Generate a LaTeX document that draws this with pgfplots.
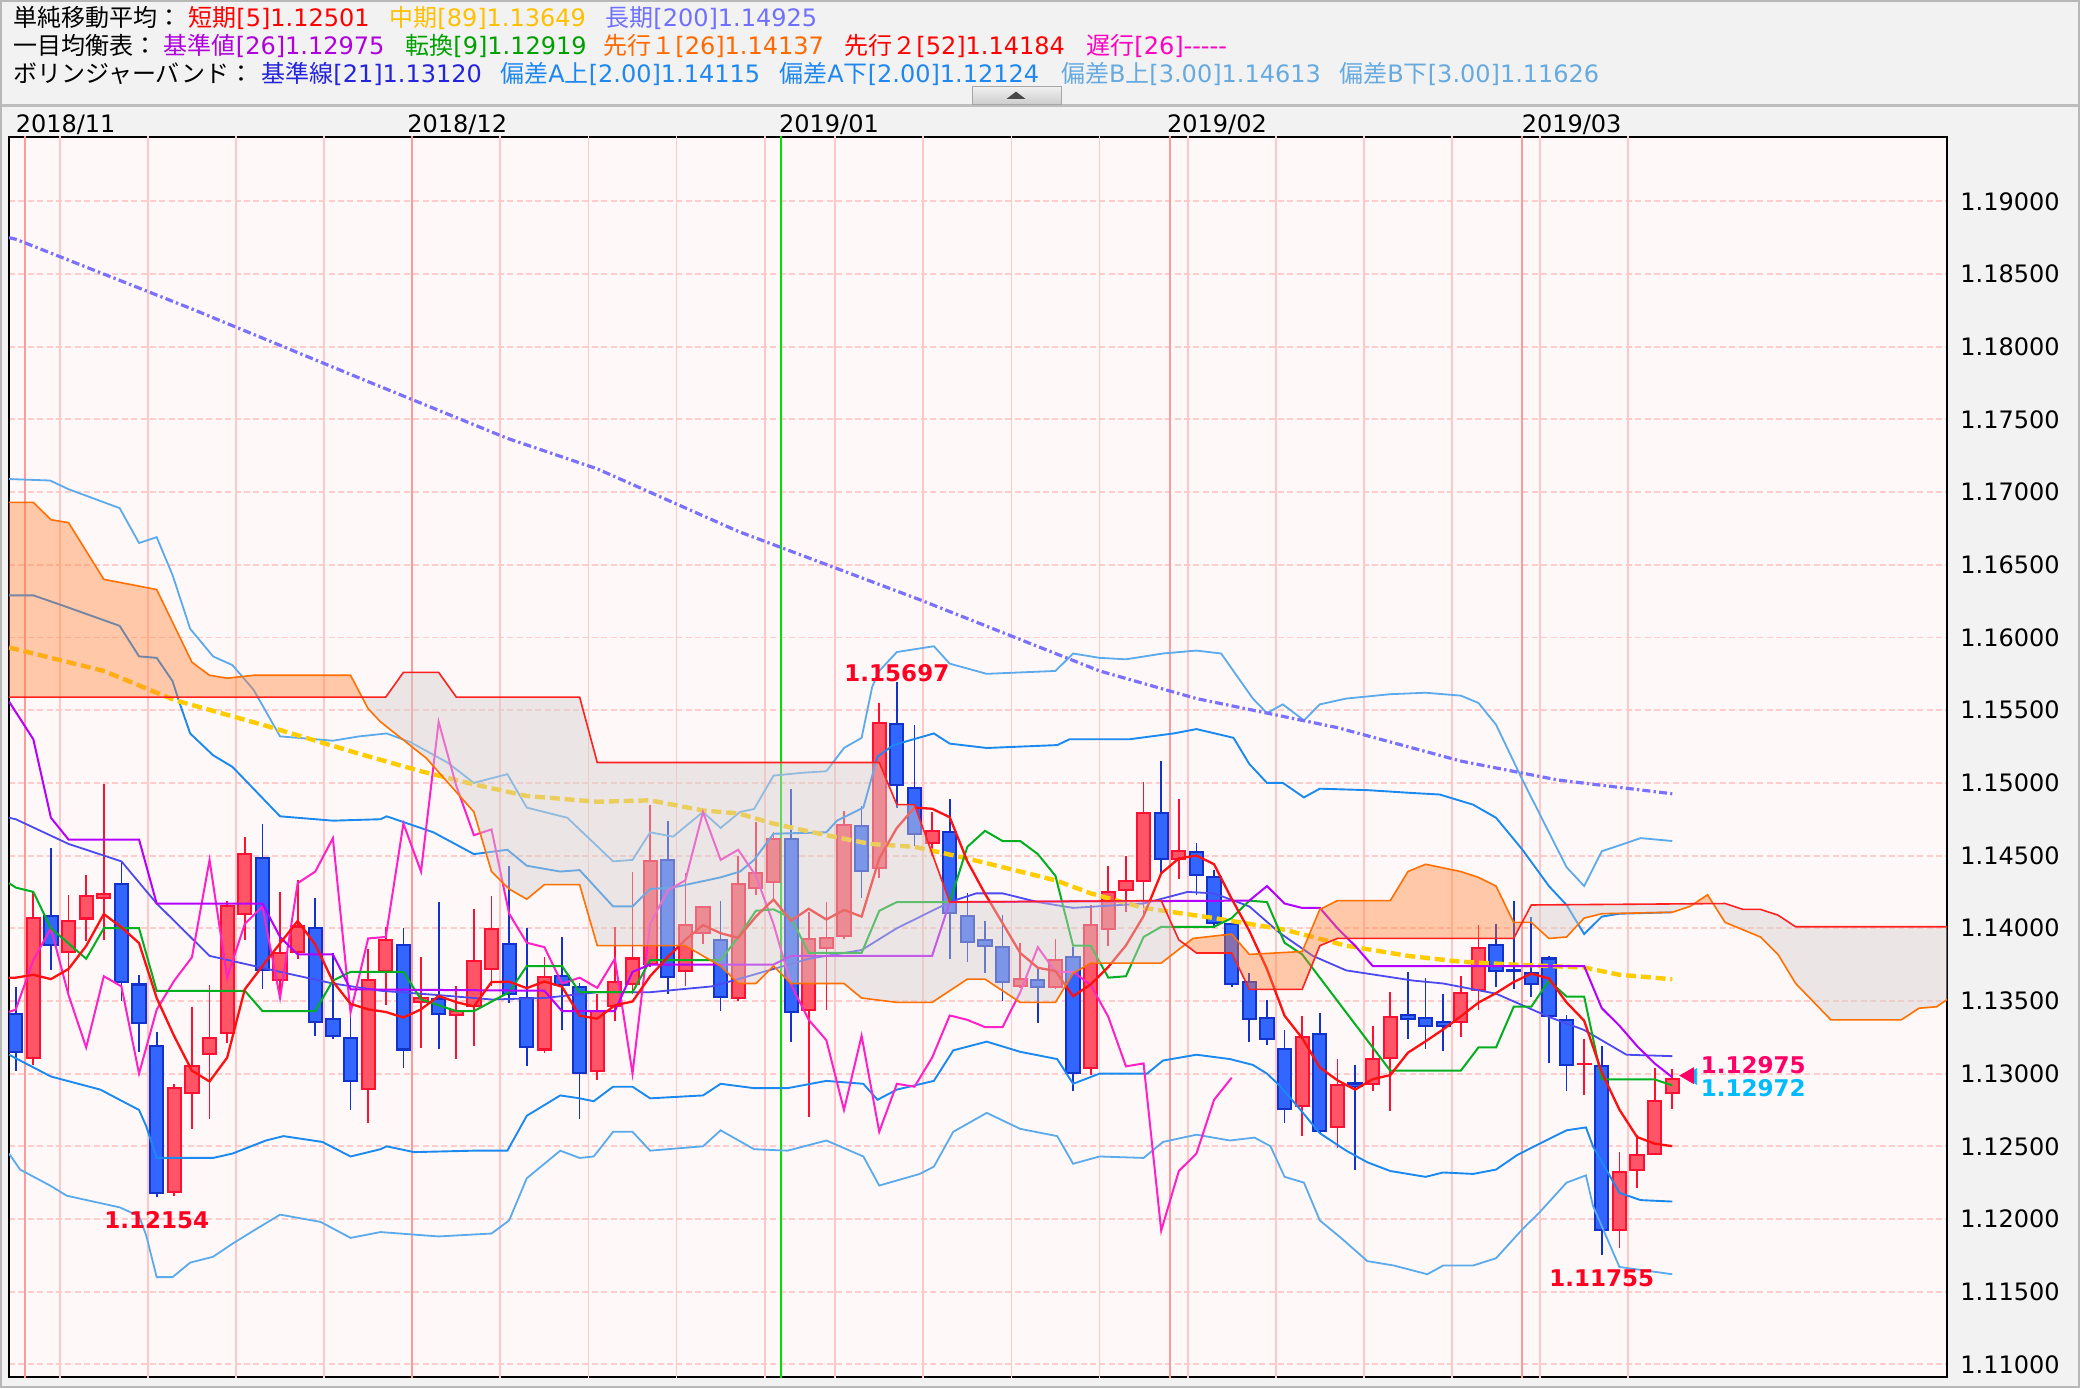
\documentclass[border=0pt]{standalone}
\usepackage{fontspec}
\setmainfont{DejaVu Sans}
\newfontfamily\jp{Noto Sans CJK JP}
\newfontfamily\dv{DejaVu Sans}
\usepackage{pgfplots}
\pgfplotsset{compat=1.18}
\usepackage{pgfplotstable}

\definecolor{panel}{HTML}{F2F2F2}
\definecolor{edge}{HTML}{B8B8B8}
\definecolor{hdrline}{HTML}{BDBDBD}
\definecolor{bgpink}{HTML}{FFF8F8}
\definecolor{gridpink}{HTML}{FFCCCC}
\definecolor{weekline}{HTML}{FFC8C8}
\definecolor{monthline}{HTML}{FF9A9A}
\definecolor{yearline}{HTML}{00E000}
\definecolor{upfill}{HTML}{FF5566}
\definecolor{upedge}{HTML}{FF1033}
\definecolor{dnfill}{HTML}{3366FF}
\definecolor{dnedge}{HTML}{1133CC}
\definecolor{smafive}{HTML}{FF1010}
\definecolor{smaeightynine}{HTML}{FFCC00}
\definecolor{smatwohundred}{HTML}{7A72FF}
\definecolor{bbmid}{HTML}{4A4AF0}
\definecolor{bbtwo}{HTML}{1A8AF0}
\definecolor{bbthree}{HTML}{5AAAEC}
\definecolor{kijun}{HTML}{B400FF}
\definecolor{tenkan}{HTML}{00B020}
\definecolor{chikou}{HTML}{FF20C8}
\definecolor{spanA}{HTML}{FF7000}
\definecolor{spanB}{HTML}{FF2020}
\definecolor{cloudorange}{HTML}{FF8033}
\definecolor{cloudgray}{HTML}{D4D0CE}
\definecolor{annred}{HTML}{FF0020}
\definecolor{annrose}{HTML}{FF0066}
\definecolor{anncyan}{HTML}{00BBFF}
\definecolor{hred}{HTML}{FF0000}
\definecolor{hgold}{HTML}{FFC000}
\definecolor{hlav}{HTML}{7070FF}
\definecolor{hpurple}{HTML}{B000DD}
\definecolor{hgreen}{HTML}{00A000}
\definecolor{horange}{HTML}{FF6A00}
\definecolor{hmagenta}{HTML}{FF00C0}
\definecolor{hblue}{HTML}{2424DD}
\definecolor{hbbA}{HTML}{1E88F0}
\definecolor{hbbB}{HTML}{66AAE0}

% ---------------- candles ----------------
\pgfplotstableread{
k O H L C
1 1.1310 1.1425 1.1306 1.1408
3 1.1383 1.1423 1.1355 1.1406
4 1.1406 1.1437 1.1391 1.1423
5 1.1420 1.1499 1.1392 1.1424
9 1.1218 1.1293 1.1216 1.1291
10 1.1286 1.1346 1.1262 1.1306
11 1.1313 1.1361 1.1269 1.1325
12 1.1327 1.1419 1.1321 1.1416
13 1.1409 1.1463 1.1392 1.1452
15 1.1364 1.1425 1.1351 1.1384
16 1.1383 1.1433 1.1379 1.1402
20 1.1289 1.1386 1.1266 1.1365
21 1.1370 1.1401 1.1347 1.1393
23 1.1349 1.1380 1.1318 1.1353
25 1.1340 1.1360 1.1310 1.1344
26 1.1346 1.1413 1.1319 1.1378
27 1.1371 1.1422 1.1360 1.1400
30 1.1316 1.1380 1.1314 1.1367
33 1.1301 1.1355 1.1296 1.1344
34 1.1346 1.1401 1.1336 1.1364
35 1.1361 1.1439 1.1355 1.1380
36 1.1375 1.1485 1.1373 1.1447
38 1.1370 1.1438 1.1360 1.1403
39 1.1396 1.1415 1.1389 1.1415
41 1.1351 1.1450 1.1350 1.1431
42 1.1427 1.1473 1.1423 1.1439
43 1.1431 1.1466 1.1419 1.1462
45 1.1343 1.1411 1.1270 1.1393
46 1.1386 1.1418 1.1344 1.1394
47 1.1394 1.1481 1.1393 1.1472
49 1.1441 1.1555 1.1435 1.1542
52 1.1458 1.1480 1.1450 1.1468
57 1.1360 1.1390 1.1359 1.1366
59 1.1359 1.1393 1.1358 1.1379
61 1.1303 1.1416 1.1299 1.1403
62 1.1399 1.1443 1.1388 1.1426
63 1.1426 1.1450 1.1411 1.1433
64 1.1432 1.1501 1.1407 1.1480
66 1.1447 1.1489 1.1434 1.1454
73 1.1277 1.1340 1.1257 1.1326
75 1.1263 1.1310 1.1249 1.1293
77 1.1292 1.1333 1.1288 1.1311
78 1.1310 1.1356 1.1274 1.1340
82 1.1335 1.1367 1.1325 1.1356
83 1.1357 1.1402 1.1344 1.1387
89 1.1306 1.1324 1.1285 1.1307
91 1.1192 1.1246 1.1180 1.1233
92 1.1233 1.1258 1.1221 1.1245
93 1.1244 1.1304 1.1244 1.1282
94 1.1286 1.1303 1.1276 1.12972
}\upc
\pgfplotstableread{
k O H L C
0 1.1342 1.1360 1.1302 1.1314
2 1.1409 1.1455 1.1371 1.1388
6 1.1431 1.1446 1.1350 1.1362
7 1.1362 1.1368 1.1315 1.1334
8 1.1320 1.1329 1.12154 1.1217
14 1.1449 1.1472 1.1358 1.1371
17 1.1401 1.1421 1.1326 1.1335
18 1.1338 1.1383 1.1324 1.1325
19 1.1325 1.1340 1.1275 1.1294
22 1.1389 1.1400 1.1304 1.1316
24 1.1352 1.1418 1.1317 1.1340
28 1.1390 1.1443 1.1349 1.1354
29 1.1353 1.1400 1.1305 1.1318
31 1.1368 1.1394 1.1330 1.1360
32 1.1360 1.1362 1.1269 1.1300
37 1.1448 1.1474 1.1355 1.1366
40 1.1393 1.1419 1.1343 1.1352
44 1.1462 1.1496 1.1322 1.1342
48 1.1471 1.1484 1.1421 1.1439
50 1.1541 1.15697 1.1483 1.1498
51 1.1497 1.1540 1.1457 1.1464
53 1.1467 1.1489 1.1379 1.1410
54 1.1409 1.1424 1.1377 1.1390
55 1.1393 1.1405 1.1369 1.1387
56 1.1388 1.1409 1.1350 1.1362
58 1.1365 1.1373 1.1335 1.1359
60 1.1381 1.1387 1.1288 1.1300
65 1.1480 1.1515 1.1438 1.1447
67 1.1453 1.1459 1.1423 1.1436
68 1.1436 1.1440 1.1400 1.1403
69 1.1404 1.1405 1.1360 1.1361
70 1.1364 1.1369 1.1322 1.1337
71 1.1339 1.1351 1.1320 1.1323
72 1.1318 1.1330 1.1266 1.1275
74 1.1328 1.1342 1.1259 1.1260
76 1.1294 1.1306 1.1234 1.1291
79 1.1341 1.1370 1.1324 1.1337
80 1.1339 1.1366 1.1317 1.1332
81 1.1336 1.1355 1.1316 1.1332
84 1.1389 1.1403 1.1360 1.1370
85 1.1372 1.1419 1.1358 1.1370
86 1.1370 1.1408 1.1353 1.1361
87 1.1380 1.1381 1.1307 1.1339
88 1.1338 1.1340 1.1288 1.1305
90 1.1306 1.1319 1.11755 1.1192
}\dnc

% ---------------- moving averages ----------------
\pgfplotstableread{
k v
-0.38 1.1366
0 1.1366
1 1.1368
2 1.1365
3 1.1372
4 1.13878
5 1.14098
6 1.14006
7 1.13898
8 1.1352
9 1.13256
10 1.1302
11 1.12946
12 1.1311
13 1.1358
14 1.1374
15 1.13896
16 1.1405
17 1.13888
18 1.13634
19 1.1348
20 1.13442
21 1.13424
22 1.13386
23 1.13442
24 1.13534
25 1.13492
26 1.13462
27 1.1363
28 1.13632
29 1.13588
30 1.13634
31 1.13598
32 1.13398
33 1.13378
34 1.1347
35 1.13496
36 1.1367
37 1.13802
38 1.1392
39 1.14022
40 1.13966
41 1.13934
42 1.1408
43 1.14198
44 1.14052
45 1.14134
46 1.1406
47 1.14126
48 1.1408
49 1.1448
50 1.1469
51 1.1483
52 1.14822
53 1.14764
54 1.1446
55 1.14238
56 1.14034
57 1.1383
58 1.13728
59 1.13706
60 1.13532
61 1.13614
62 1.13734
63 1.13882
64 1.14084
65 1.14378
66 1.1448
67 1.145
68 1.1444
69 1.14202
70 1.13982
71 1.1372
72 1.13398
73 1.13244
74 1.13042
75 1.12954
76 1.1289
77 1.12962
78 1.1299
79 1.13144
80 1.13222
81 1.13304
82 1.13394
83 1.13488
84 1.13554
85 1.1363
86 1.13688
87 1.13654
88 1.1349
89 1.13364
90 1.13008
91 1.12752
92 1.12564
93 1.12518
94 1.12501
}\smaA
\pgfplotstableread{
k v
-0.38 1.1593
0 1.1592
5 1.1577
9 1.1557
14 1.1540
19.5 1.1520
23 1.1508
26 1.1499
29 1.1491
33 1.1487
36 1.1488
39 1.1481
41 1.1479
43 1.1472
46 1.1464
48.5 1.1458
51 1.1456
54 1.1448
57 1.1439
59 1.1433
61 1.1424
64 1.1414
68 1.1407
72 1.1399
75.5 1.1388
79 1.1381
82 1.1377
85 1.1375
89 1.1373
91 1.1368
94 1.13649
}\smaB
\pgfplotstableread{
k v
-0.38 1.1875
0 1.1874
10 1.1826
20 1.1776
27.9 1.1737
33 1.1716
41 1.1673
51.3 1.1626
61.5 1.1577
67 1.1558
75 1.1538
82 1.1515
87.5 1.1502
94 1.14925
}\smaC

% ---------------- Bollinger ----------------
\pgfplotstableread{
k v
-0.38 1.1476
0 1.1475
3 1.1458
6 1.1446
8 1.1417
11 1.1381
15 1.1370
18 1.1362
20.7 1.1357
24 1.1354
27 1.1351
30 1.1352
33 1.1356
36 1.1356
39.5 1.1360
41 1.1365
43 1.1372
45 1.1379
48 1.1385
50 1.1400
53 1.1418
54.5 1.1424
56 1.1424
58 1.1418
60 1.1414
64 1.1417
66.5 1.1425
68 1.1424
70 1.1415
71.7 1.1397
73.6 1.1381
75.5 1.1371
79.3 1.1364
81 1.1362
84 1.1355
87 1.1339
89 1.1330
91.4 1.1313
94 1.1312
}\bbmidT
\pgfplotstableread{
k v
-0.38 1.1629
1 1.1629
2.9 1.1621
5.9 1.1608
7 1.1587
8 1.1586
8.9 1.1570
9.3 1.1555
9.9 1.1534
11.2 1.1519
12.3 1.1511
15 1.1477
18 1.1474
20.7 1.1475
21.05 1.1477
23.7 1.1466
26 1.1451
27.9 1.1454
29 1.1443
30.9 1.1439
32 1.1440
33.9 1.1415
35 1.1415
36 1.1427
37.3 1.1428
40 1.1435
41.1 1.1439
41.9 1.1447
43 1.1465
46 1.1466
46.6 1.1474
48.1 1.1483
48.9 1.1518
49.8 1.1526
52.1 1.1534
53 1.1527
55.1 1.1524
59.1 1.1526
59.8 1.1530
61.5 1.1530
63.2 1.1530
65.7 1.1534
67 1.1537
69.1 1.1531
70 1.1513
71 1.1500
71.9 1.1500
73.1 1.1490
74 1.1496
76.7 1.1495
79.3 1.1493
80.8 1.1492
82.7 1.1485
84 1.1476
85.5 1.1454
87 1.1429
88 1.1416
89 1.1396
90 1.1408
91 1.1410
94 1.1411
}\bbupA
\pgfplotstableread{
k v
-0.38 1.1313
2 1.1298
4.8 1.1289
7 1.1275
7.4 1.1264
8 1.1242
9.9 1.1242
11.2 1.1242
12.3 1.1245
14.2 1.1254
15.2 1.1257
17.4 1.1253
19 1.1243
20.7 1.1248
21.05 1.1250
22.6 1.1246
26 1.1247
27.9 1.1247
29 1.1271
30.9 1.1285
32 1.1283
32.8 1.1281
33.9 1.1291
35 1.1291
36 1.1283
39 1.1285
40 1.1293
41.9 1.1290
43.8 1.1290
46 1.1295
48.1 1.1293
48.9 1.1282
50 1.1289
52.1 1.1295
53.2 1.1316
55.1 1.1322
57 1.1315
59.1 1.1310
60 1.1293
61.5 1.1300
64.2 1.1300
65.1 1.1309
67 1.1313
68.9 1.1310
70.2 1.1306
71 1.1300
71.7 1.1292
72.7 1.1278
74 1.1259
75.5 1.1247
76.7 1.1239
78 1.1233
80 1.1229
81 1.1232
82.7 1.1231
84 1.1234
85.2 1.1244
86.5 1.1252
88 1.1261
89.1 1.1263
89.5 1.1250
91 1.1218
92.2 1.1213
94 1.1212
}\bbloA
\pgfplotstableread{
k v
-0.38 1.1709
1.95 1.1708
3 1.1702
5.9 1.1689
7 1.1665
8 1.1669
8.9 1.1643
9.9 1.1606
11.2 1.1587
12.3 1.1581
13.5 1.1564
15 1.1532
18 1.1529
19.5 1.1532
21.05 1.1534
22.4 1.1528
24.5 1.1514
26 1.1500
27.9 1.1506
29 1.1483
31.3 1.1476
33.9 1.1446
35 1.1447
36 1.1466
37.3 1.1463
39 1.1480
40 1.1469
41.1 1.1480
41.9 1.1482
43 1.1505
44.7 1.1507
46 1.1508
47 1.1524
48 1.1531
48.6 1.1566
49 1.1577
50 1.1590
52.1 1.1594
53 1.1582
55.1 1.1575
59 1.1577
60 1.1589
61.5 1.1586
63 1.1585
65.1 1.1589
67 1.1591
68.4 1.1589
70.2 1.1558
71 1.1548
71.9 1.1554
73.1 1.1543
74 1.1554
75.5 1.1558
78 1.1561
80 1.1562
82 1.1560
83 1.1555
84 1.1540
85.5 1.1502
88 1.1442
89 1.1429
90 1.1453
91 1.1457
92.2 1.1462
94 1.1460
}\bbupB
\pgfplotstableread{
k v
-0.38 1.1245
0.25 1.1234
1.95 1.1223
2.9 1.1216
5.9 1.1208
7 1.1202
7.4 1.1189
8 1.1160
8.9 1.1160
9.9 1.1170
11.2 1.1174
12.3 1.1183
13.5 1.1192
15 1.1203
17.3 1.1198
19 1.1187
20.7 1.1191
24 1.1188
27 1.1190
28 1.1199
29 1.1228
30.9 1.1247
32 1.1242
32.8 1.1243
33.9 1.1260
35 1.1260
36 1.1247
39 1.1250
40 1.1261
41.9 1.1248
43.8 1.1247
46 1.1254
48.1 1.1243
49 1.1223
51.3 1.1231
52.1 1.1236
53.2 1.1260
55.1 1.1273
57 1.1262
59.1 1.1257
60 1.1238
61.5 1.1243
64 1.1242
65.1 1.1253
67 1.1258
68.9 1.1254
70.3 1.1256
71.2 1.1250
72 1.1229
73.1 1.1225
74 1.1199
75.2 1.1187
76.7 1.1171
78.2 1.1168
80.1 1.1162
81 1.1168
82.7 1.1168
84 1.1173
85.5 1.1193
86.5 1.1205
88 1.1225
89.1 1.1230
89.5 1.1209
91 1.1167
94 1.1162
}\bbloB

% ---------------- Ichimoku ----------------
\pgfplotstableread{
k v
-0.38 1.1556
1 1.1530
2 1.1476
3 1.1461
7 1.1461
8 1.1417
14 1.1417
15 1.1394
16 1.1382
18 1.1382
19 1.1358
30 1.1357
31 1.1343
34 1.1343
35 1.1370
36 1.1375
43 1.1375
44 1.1381
52 1.1381
53 1.1418
70 1.1419
71 1.1429
72 1.1417
73 1.1414
74 1.1414
75 1.1400
76 1.1388
77 1.1374
89 1.1374
90 1.1345
91 1.1333
92 1.1319
93 1.1307
94 1.12975
}\kijunT
\pgfplotstableread{
k v
-0.38 1.1431
0 1.1428
1 1.1425
2 1.1400
4 1.1379
5 1.1400
7 1.1400
8 1.1357
13 1.1357
14 1.1343
17 1.1343
18 1.1364
19 1.1370
22 1.1370
23 1.1351
25 1.1343
26 1.1343
28 1.1356
29 1.1374
31 1.1374
32 1.1356
35 1.1356
36 1.1378
40 1.1378
41 1.1394
42 1.1412
43 1.1413
44 1.1407
45 1.1383
48 1.1383
49 1.1412
50 1.1418
53 1.1418
54 1.1456
55 1.1467
56 1.1460
57 1.1460
58 1.1451
59 1.1436
60 1.1388
61 1.1388
62 1.1366
63 1.1367
64 1.1394
65 1.1401
68 1.1401
69 1.1407
70 1.1419
71 1.1418
72 1.1390
73 1.1382
78 1.1302
82 1.1302
83 1.1318
84 1.1318
85 1.1346
86 1.1346
87 1.1364
88 1.1353
89 1.1353
90 1.1296
93 1.1296
94 1.12919
}\tenkanT
\pgfplotstableread{
k v
-1 1.1340
0 1.1344
1 1.1378
2 1.1400
3 1.1354
4 1.1318
5 1.1367
6 1.1360
7 1.1300
8 1.1344
9 1.1364
10 1.1380
11 1.1447
12 1.1366
13 1.1403
14 1.1415
15 1.1352
16 1.1431
17 1.1439
18 1.1462
19 1.1342
20 1.1393
21 1.1394
22 1.1472
23 1.1439
24 1.1542
25 1.1498
26 1.1464
27 1.1468
28 1.1410
29 1.1390
30 1.1387
31 1.1362
32 1.1366
33 1.1359
34 1.1379
35 1.1300
36 1.1403
37 1.1426
38 1.1433
39 1.1480
40 1.1447
41 1.1454
42 1.1436
43 1.1403
44 1.1361
45 1.1337
46 1.1323
47 1.1275
48 1.1326
49 1.1260
50 1.1293
51 1.1291
52 1.1311
53 1.1340
54 1.1337
55 1.1332
56 1.1332
57 1.1356
58 1.1387
59 1.1370
60 1.1370
61 1.1361
62 1.1339
63 1.1305
64 1.1307
65 1.1192
66 1.1233
67 1.1245
68 1.1282
69 1.12972
}\chikouT
\pgfplotstableread{
k v
-0.38 1.1693
1 1.1693
2 1.1681
3 1.1679
5 1.1640
8 1.1633
10 1.1583
11 1.1574
12 1.1572
13.5 1.1574
19 1.1574
20 1.1551
20.7 1.1542
23.3 1.1517
26 1.1480
27 1.1439
28 1.1427
29 1.1420
30 1.1430
32 1.1430
33 1.1388
38 1.1388
40 1.1374
41 1.1362
42 1.1362
43 1.1374
44 1.1362
47 1.1362
48 1.1352
50 1.1349
52 1.1349
54 1.1365
55 1.1365
57 1.1349
59 1.1349
60 1.1369
61 1.1376
65 1.1376
66.8 1.1393
69 1.1396
70 1.1382
73 1.1384
74 1.1413
75 1.1419
78 1.1419
79 1.1439
80 1.1444
82 1.1439
83 1.1435
84 1.1429
85 1.1404
86 1.1404
87 1.1393
88 1.1394
89 1.1407
90 1.1410
94 1.1411
95 1.1415
96 1.1423
97 1.1404
99 1.1394
100 1.1382
101 1.1362
103 1.1337
107 1.1337
108 1.1345
109 1.1346
109.6 1.1351
}\spanAT
\pgfplotstableread{
k v
-0.38 1.1559
21 1.1559
22 1.1576
24 1.1576
25 1.1559
32 1.1559
33 1.1514
49 1.1514
50 1.1485
51 1.1485
53 1.1418
65 1.1419
66 1.1392
67 1.1383
69 1.1383
70 1.1358
73 1.1358
74 1.1388
75 1.1393
85 1.1393
86 1.1416
97 1.1417
98 1.1413
99 1.1413
100 1.1409
101 1.1401
109.6 1.1401
}\spanBT

% ---------------- vertical separators ----------------
\pgfplotstableread{
x y
2.5 1.10
2.5 1.20
nan nan
7.5 1.10
7.5 1.20
nan nan
12.5 1.10
12.5 1.20
nan nan
17.5 1.10
17.5 1.20
nan nan
27.5 1.10
27.5 1.20
nan nan
32.5 1.10
32.5 1.20
nan nan
37.5 1.10
37.5 1.20
nan nan
42.5 1.10
42.5 1.20
nan nan
46.5 1.10
46.5 1.20
nan nan
51.5 1.10
51.5 1.20
nan nan
56.5 1.10
56.5 1.20
nan nan
61.5 1.10
61.5 1.20
nan nan
66.5 1.10
66.5 1.20
nan nan
71.5 1.10
71.5 1.20
nan nan
76.5 1.10
76.5 1.20
nan nan
81.5 1.10
81.5 1.20
nan nan
86.5 1.10
86.5 1.20
nan nan
91.5 1.10
91.5 1.20
}\weekT
\pgfplotstableread{
x y
0.5 1.10
0.5 1.20
nan nan
22.5 1.10
22.5 1.20
nan nan
65.5 1.10
65.5 1.20
nan nan
85.5 1.10
85.5 1.20
}\monthT

\newcommand\hdr{\dv\fontsize{12}{14}\selectfont}
\newcommand\tickf{\dv\fontsize{12}{14}\selectfont}
\newcommand\annf{\dv\bfseries\fontsize{11.5}{13}\selectfont}

\begin{document}
\begin{tikzpicture}
\useasboundingbox (0pt,0pt) rectangle (1040pt,694pt);
\fill[panel] (0pt,0pt) rectangle (1040pt,694pt);

\begin{axis}[
  at={(4.5pt,5.5pt)}, anchor=south west,
  scale only axis, width=969pt, height=620pt,
  xmin=-0.38, xmax=109.59, ymin=1.10913, ymax=1.19443,
  axis background/.style={fill=bgpink},
  axis line style={line width=1pt, black},
  xtick=\empty,
  ytick={1.11,1.115,1.12,1.125,1.13,1.135,1.14,1.145,1.15,1.155,1.16,1.165,1.17,1.175,1.18,1.185,1.19},
  yticklabels={1.11000,1.11500,1.12000,1.12500,1.13000,1.13500,1.14000,1.14500,1.15000,1.15500,1.16000,1.16500,1.17000,1.17500,1.18000,1.18500,1.19000},
  scaled y ticks=false,
  yticklabel pos=right,
  major tick length=0pt,
  yticklabel style={font=\tickf, anchor=west, inner sep=0pt, xshift=6.5pt},
  ymajorgrids,
  major grid style={draw=gridpink, dash pattern=on 3pt off 1.7pt, line width=0.95pt},
  unbounded coords=jump,
]
% vertical separators
\addplot[weekline, line width=0.9pt, forget plot] table[x=x,y=y]{\weekT};
\addplot[monthline, line width=1pt, forget plot] table[x=x,y=y]{\monthT};
\addplot[yearline, line width=1pt, forget plot] coordinates {(43.4,1.10) (43.4,1.20)};

% candle wicks
\addplot[draw=none, mark=none, forget plot, error bars/.cd, y dir=both, y explicit, error mark=none,
  error bar style={draw=upedge, line width=0.85pt}]
  table[x=k, y expr={(\thisrow{H}+\thisrow{L})/2}, y error expr={(\thisrow{H}-\thisrow{L})/2}]{\upc};
\addplot[draw=none, mark=none, forget plot, error bars/.cd, y dir=both, y explicit, error mark=none,
  error bar style={draw=dnedge, line width=0.85pt}]
  table[x=k, y expr={(\thisrow{H}+\thisrow{L})/2}, y error expr={(\thisrow{H}-\thisrow{L})/2}]{\dnc};
% candle bodies (edge then fill)
\addplot[draw=none, mark=none, forget plot, error bars/.cd, y dir=both, y explicit, error mark=none,
  error bar style={draw=upedge, line width=7.6pt}]
  table[x=k, y expr={(\thisrow{O}+\thisrow{C})/2}, y error expr={max(abs(\thisrow{C}-\thisrow{O})/2,0.00009)}]{\upc};
\addplot[draw=none, mark=none, forget plot, error bars/.cd, y dir=both, y explicit, error mark=none,
  error bar style={draw=upfill, line width=5.6pt}]
  table[x=k, y expr={(\thisrow{O}+\thisrow{C})/2}, y error expr={max(abs(\thisrow{C}-\thisrow{O})/2-0.00014,0)}]{\upc};
\addplot[draw=none, mark=none, forget plot, error bars/.cd, y dir=both, y explicit, error mark=none,
  error bar style={draw=dnedge, line width=7.6pt}]
  table[x=k, y expr={(\thisrow{O}+\thisrow{C})/2}, y error expr={max(abs(\thisrow{C}-\thisrow{O})/2,0.00009)}]{\dnc};
\addplot[draw=none, mark=none, forget plot, error bars/.cd, y dir=both, y explicit, error mark=none,
  error bar style={draw=dnfill, line width=5.6pt}]
  table[x=k, y expr={(\thisrow{O}+\thisrow{C})/2}, y error expr={max(abs(\thisrow{C}-\thisrow{O})/2-0.00014,0)}]{\dnc};

% Bollinger bands
\addplot[bbthree, line width=0.9pt, mark=none] table[x=k,y=v]{\bbupB};
\addplot[bbthree, line width=0.9pt, mark=none] table[x=k,y=v]{\bbloB};
\addplot[bbtwo, line width=0.95pt, mark=none] table[x=k,y=v]{\bbupA};
\addplot[bbtwo, line width=0.95pt, mark=none] table[x=k,y=v]{\bbloA};
\addplot[bbmid, line width=0.9pt, mark=none] table[x=k,y=v]{\bbmidT};
% moving averages
\addplot[smatwohundred, line width=1.6pt, mark=none, dash pattern=on 4pt off 1.6pt on 1.2pt off 1.6pt] table[x=k,y=v]{\smaC};
\addplot[smaeightynine, line width=2.2pt, mark=none, dash pattern=on 5pt off 2.4pt] table[x=k,y=v]{\smaB};
% Ichimoku lines
\addplot[chikou, line width=1pt, mark=none] table[x=k,y=v]{\chikouT};
\addplot[tenkan, line width=1pt, mark=none] table[x=k,y=v]{\tenkanT};
\addplot[kijun, line width=1pt, mark=none] table[x=k,y=v]{\kijunT};
\addplot[smafive, line width=1.15pt, mark=none] table[x=k,y=v]{\smaA};

% cloud (span A to span B, orange where A is above, grey where B is above)
\addplot[fill=cloudorange, fill opacity=0.4, draw=none, forget plot] coordinates {
(-0.38,1.1693) (1,1.1693) (2,1.1681) (3,1.1679) (5,1.1640) (8,1.1633) (10,1.1583) (11,1.1574) (12,1.1572) (13.5,1.1574) (19,1.1574) (19.65,1.1559)
(-0.38,1.1559)} -- cycle;
\addplot[fill=cloudgray, fill opacity=0.45, draw=none, forget plot] coordinates {
(19.65,1.1559) (20,1.1551) (20.7,1.1542) (23.3,1.1517) (26,1.1480) (27,1.1439) (28,1.1427) (29,1.1420) (30,1.1430) (32,1.1430) (33,1.1388) (38,1.1388) (40,1.1374) (41,1.1362) (42,1.1362) (43,1.1374) (44,1.1362) (47,1.1362) (48,1.1352) (50,1.1349) (52,1.1349) (54,1.1365) (55,1.1365) (57,1.1349) (59,1.1349) (60,1.1369) (61,1.1376) (65,1.1376) (66.36,1.13888)
(66,1.1392) (65,1.1419) (53,1.1418) (51,1.1485) (50,1.1485) (49,1.1514) (33,1.1514) (32,1.1559) (25,1.1559) (24,1.1576) (22,1.1576) (21,1.1559)} -- cycle;
\addplot[fill=cloudorange, fill opacity=0.4, draw=none, forget plot] coordinates {
(66.36,1.13888) (66.8,1.1393) (69,1.1396) (70,1.1382) (73,1.1384) (74,1.1413) (75,1.1419) (78,1.1419) (79,1.1439) (80,1.1444) (82,1.1439) (83,1.1435) (84,1.1429) (85,1.1404) (85.48,1.1404)
(85,1.1393) (75,1.1393) (74,1.1388) (73,1.1358) (70,1.1358) (69,1.1383) (67,1.1383)} -- cycle;
\addplot[fill=cloudgray, fill opacity=0.45, draw=none, forget plot] coordinates {
(85.48,1.1404) (86,1.1404) (87,1.1393) (88,1.1394) (89,1.1407) (90,1.1410) (94,1.1411) (95,1.1415) (95.25,1.1417)
(86,1.1416)} -- cycle;
\addplot[fill=cloudorange, fill opacity=0.4, draw=none, forget plot] coordinates {
(95.25,1.1417) (96,1.1423) (96.32,1.14169)} -- cycle;
\addplot[fill=cloudgray, fill opacity=0.45, draw=none, forget plot] coordinates {
(96.32,1.14169) (97,1.1404) (99,1.1394) (100,1.1382) (101,1.1362) (103,1.1337) (107,1.1337) (108,1.1345) (109,1.1346) (109.6,1.1351)
(109.6,1.1401) (101,1.1401) (100,1.1409) (99,1.1413) (98,1.1413) (97,1.1417)} -- cycle;
\addplot[spanA, line width=0.8pt, mark=none] table[x=k,y=v]{\spanAT};
\addplot[spanB, line width=0.8pt, mark=none] table[x=k,y=v]{\spanBT};

% last price markers
\addplot[anncyan, only marks, mark=triangle*, mark size=4.5pt, mark options={rotate=90, fill=anncyan, draw=none, xshift=0.6pt, yshift=-1.6pt}] coordinates {(94.95,1.12972)};
\addplot[annrose, only marks, mark=triangle*, mark size=4.5pt, mark options={rotate=90, fill=annrose, draw=none}] coordinates {(94.95,1.12986)};

% annotations
\node[anchor=base, inner sep=0pt, font=\annf, text=annred] at (axis cs:50,1.15697) {1.15697};
\node[anchor=north, inner sep=0pt, font=\annf, text=annred, yshift=-7.3pt] at (axis cs:8,1.12154) {1.12154};
\node[anchor=north, inner sep=0pt, font=\annf, text=annred, yshift=-7.3pt] at (axis cs:90,1.11755) {1.11755};
\node[anchor=west, inner sep=0pt, font=\annf, text=annrose] at (axis cs:95.6,1.13058) {1.12975};
\node[anchor=west, inner sep=0pt, font=\annf, text=anncyan] at (axis cs:95.6,1.12903) {1.12972};
\end{axis}

% ---------- header ----------
\draw[edge, line width=1pt] (0pt,693.5pt) -- (1040pt,693.5pt);
\draw[hdrline, line width=1.5pt] (0pt,641pt) -- (1040pt,641pt);
\draw[edge, line width=1pt] (0.5pt,0pt) -- (0.5pt,694pt);
\draw[edge, line width=1pt] (1039.5pt,0pt) -- (1039.5pt,694pt);
\draw[edge, line width=1pt] (0pt,0.5pt) -- (1040pt,0.5pt);
\shade[top color=black!6, bottom color=black!20] (486.35pt,641.5pt) rectangle (530.5pt,650.65pt);
\draw[black!35, line width=0.5pt] (486.35pt,641.5pt) rectangle (530.5pt,650.65pt);
\fill[black!72] (503.25pt,644.5pt) -- (512.75pt,644.5pt) -- (508pt,648.2pt) -- cycle;

\begin{scope}[every node/.style={anchor=base west, inner sep=0pt, font=\hdr}]
\node at (6.5pt,680.75pt) {\jp 単純移動平均：};
\node[text=hred] at (94pt,680.75pt) {{\jp 短期}[5]1.12501};
\node[text=hgold] at (194.5pt,680.75pt) {{\jp 中期}[89]1.13649};
\node[text=hlav] at (302.5pt,680.75pt) {{\jp 長期}[200]1.14925};

\node at (6.5pt,666.75pt) {\jp 一目均衡表：};
\node[text=hpurple] at (81.75pt,666.75pt) {{\jp 基準値}[26]1.12975};
\node[text=hgreen] at (202.5pt,666.75pt) {{\jp 転換}[9]1.12919};
\node[text=horange] at (301.5pt,666.75pt) {{\jp 先行１}[26]1.14137};
\node[text=hred] at (422pt,666.75pt) {{\jp 先行２}[52]1.14184};
\node[text=hmagenta] at (543pt,666.75pt) {{\jp 遅行}[26]-{}-{}-{}-{}-};

\node at (6.5pt,652.75pt) {\jp ボリンジャーバンド：};
\node[text=hblue] at (130.5pt,652.75pt) {{\jp 基準線}[21]1.13120};
\node[text=hbbA] at (250pt,652.75pt) {{\jp 偏差}A{\jp 上}[2.00]1.14115};
\node[text=hbbA] at (389.5pt,652.75pt) {{\jp 偏差}A{\jp 下}[2.00]1.12124};
\node[text=hbbB] at (530.3pt,652.75pt) {{\jp 偏差}B{\jp 上}[3.00]1.14613};
\node[text=hbbB] at (669.5pt,652.75pt) {{\jp 偏差}B{\jp 下}[3.00]1.11626};
\end{scope}

% month labels
\begin{scope}[every node/.style={anchor=base west, inner sep=0pt, font=\tickf}]
\node at (7.7pt,627.6pt) {2018/11};
\node at (203.5pt,627.6pt) {2018/12};
\node at (389.35pt,627.6pt) {2019/01};
\node at (583.35pt,627.6pt) {2019/02};
\node at (760.7pt,627.6pt) {2019/03};
\end{scope}
\end{tikzpicture}
\end{document}
